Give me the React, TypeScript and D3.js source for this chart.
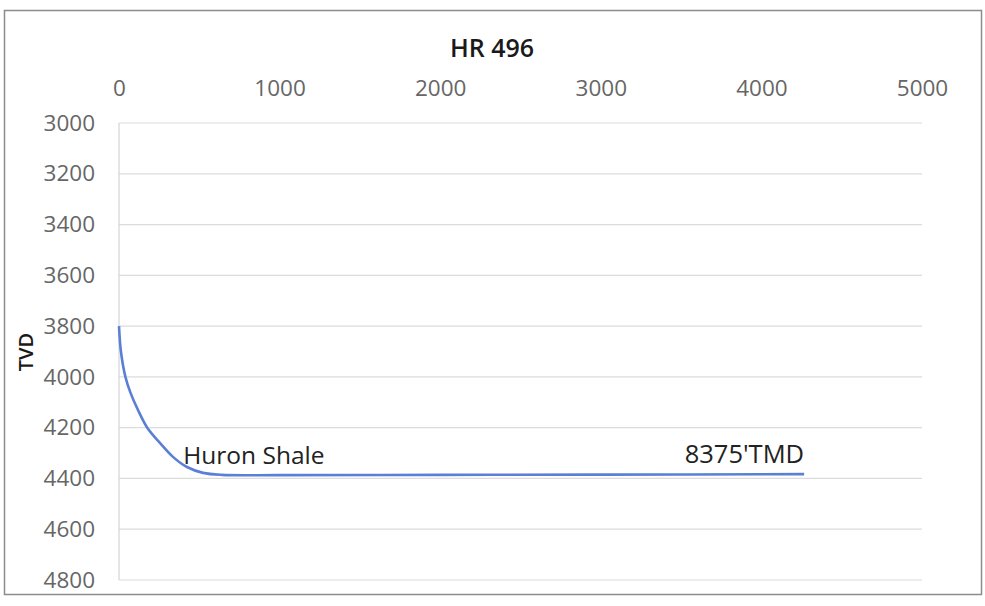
import { useEffect, useRef } from "react";
import * as d3 from "d3";

// horizontal displacement (ft) and true vertical depth (ft)
const displacement = [0, 12, 40, 70, 118, 176, 255, 336, 423, 523, 640, 1000, 2000, 3000, 4266];
const tvd = [3800, 3900, 4000, 4060, 4130, 4200, 4260, 4315, 4355, 4378, 4386, 4387, 4386, 4385, 4383];

const xTicks = [0, 1000, 2000, 3000, 4000, 5000];
const yTicks = [3000, 3200, 3400, 3600, 3800, 4000, 4200, 4400, 4600, 4800];

const App: React.FC = () => {
  const svgRef = useRef<SVGSVGElement | null>(null);

  useEffect(() => {
    if (!svgRef.current) return;

    const W = 985;
    const H = 606;
    const margin = { top: 123, right: 63, bottom: 26, left: 119 };
    const width = W - margin.left - margin.right;
    const height = H - margin.top - margin.bottom;
    const font = "'Open Sans', sans-serif";

    const root = d3.select(svgRef.current);
    root.selectAll("*").remove();
    root.attr("width", W).attr("height", H);

    root
      .append("rect")
      .attr("width", W)
      .attr("height", H)
      .attr("fill", "#fff");

    // chart border
    root
      .append("rect")
      .attr("x", 4.5)
      .attr("y", 10.5)
      .attr("width", 977)
      .attr("height", 584)
      .attr("fill", "none")
      .attr("stroke", "#8c8c8c")
      .attr("stroke-width", 1.5);

    const svg = root
      .append("g")
      .attr("transform", `translate(${margin.left},${margin.top})`);

    const xScale = d3.scaleLinear().domain([0, 5000]).range([0, width]);
    const yScale = d3.scaleLinear().domain([3000, 4800]).range([0, height]);

    // horizontal gridlines
    svg
      .selectAll(".grid")
      .data(yTicks)
      .enter()
      .append("line")
      .attr("class", "grid")
      .attr("x1", 0)
      .attr("x2", width)
      .attr("y1", (d) => yScale(d))
      .attr("y2", (d) => yScale(d))
      .attr("stroke", "#dcdcdc")
      .attr("stroke-width", 1.2);

    // vertical axis line
    svg
      .append("line")
      .attr("x1", 0)
      .attr("x2", 0)
      .attr("y1", 0)
      .attr("y2", height)
      .attr("stroke", "#d4d4d4")
      .attr("stroke-width", 1.2);

    // x axis on top
    const xAxis = svg
      .append("g")
      .call(d3.axisTop(xScale).tickValues(xTicks).tickSize(0).tickPadding(27).tickFormat(d3.format("d")));
    xAxis.select(".domain").remove();
    xAxis
      .selectAll("text")
      .attr("font-family", font)
      .attr("font-size", 22.5)
      .attr("fill", "#666");

    // y axis
    const yAxis = svg
      .append("g")
      .call(d3.axisLeft(yScale).tickValues(yTicks).tickSize(0).tickPadding(24).tickFormat(d3.format("d")));
    yAxis.select(".domain").remove();
    yAxis
      .selectAll("text")
      .attr("font-family", font)
      .attr("font-size", 22.5)
      .attr("fill", "#666");

    // well path
    const pts: [number, number][] = displacement.map((d, i) => [d, tvd[i]]);
    const line = d3
      .line<[number, number]>()
      .x((d) => xScale(d[0]))
      .y((d) => yScale(d[1]))
      .curve(d3.curveCatmullRom.alpha(0.5));

    svg
      .append("path")
      .datum(pts)
      .attr("d", line)
      .attr("fill", "none")
      .attr("stroke", "#5b7fd6")
      .attr("stroke-width", 2.6);

    // annotations
    svg
      .append("text")
      .attr("x", xScale(400))
      .attr("y", yScale(4345))
      .attr("font-family", font)
      .attr("font-size", 24.5)
      .attr("fill", "#222")
      .text("Huron Shale");

    svg
      .append("text")
      .attr("x", xScale(4266))
      .attr("y", yScale(4340))
      .attr("text-anchor", "end")
      .attr("font-family", font)
      .attr("font-size", 25.5)
      .attr("fill", "#222")
      .text("8375'TMD");

    // title
    root
      .append("text")
      .attr("x", 492)
      .attr("y", 57)
      .attr("text-anchor", "middle")
      .attr("font-family", font)
      .attr("font-size", 25)
      .attr("font-weight", 600)
      .attr("fill", "#1a1a1a")
      .text("HR 496");

    // y label
    root
      .append("text")
      .attr("transform", `translate(33,352) rotate(-90)`)
      .attr("text-anchor", "middle")
      .attr("font-family", font)
      .attr("font-size", 20)
      .attr("font-weight", 600)
      .attr("fill", "#1a1a1a")
      .text("TVD");
  }, []);

  return (
    <svg
      ref={svgRef}
      style={{ position: "absolute", left: 0, top: 0, display: "block" }}
    ></svg>
  );
};

export default App;
